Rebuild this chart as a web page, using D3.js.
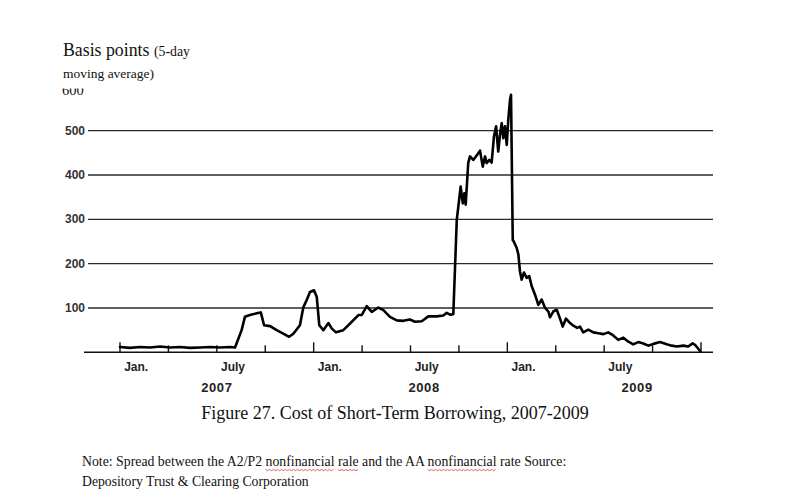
<!DOCTYPE html>
<html>
<head>
<meta charset="utf-8">
<script src="https://cdn.jsdelivr.net/npm/d3@7"></script>
<style>
  html, body { margin: 0; padding: 0; background: #fff; }
  svg { display: block; }
</style>
</head>
<body>
<svg id="chart" width="788" height="502"></svg>
<script>
// decimal years, with the spread in basis points
const years = [
  2007.000, 2007.052, 2007.103, 2007.155, 2007.207, 2007.258, 2007.310, 2007.361,
  2007.413, 2007.465, 2007.516, 2007.568, 2007.594, 2007.628, 2007.645, 2007.671,
  2007.706, 2007.727, 2007.744, 2007.775, 2007.809, 2007.843, 2007.873, 2007.895,
  2007.929, 2007.947, 2007.964, 2007.981, 2008.002, 2008.016, 2008.029, 2008.050,
  2008.076, 2008.093, 2008.115, 2008.153, 2008.188, 2008.231, 2008.248, 2008.274,
  2008.300, 2008.334, 2008.360, 2008.394, 2008.429, 2008.463, 2008.497, 2008.523,
  2008.558, 2008.592, 2008.635, 2008.669, 2008.687, 2008.704, 2008.721, 2008.739,
  2008.747, 2008.759, 2008.770, 2008.778, 2008.785, 2008.798, 2008.807, 2008.824,
  2008.845, 2008.859, 2008.873, 2008.885, 2008.893, 2008.907, 2008.919, 2008.931,
  2008.942, 2008.953, 2008.962, 2008.971, 2008.979, 2008.988, 2008.997, 2009.005,
  2009.014, 2009.019, 2009.028, 2009.031, 2009.048, 2009.057, 2009.065, 2009.074,
  2009.086, 2009.100, 2009.113, 2009.126, 2009.143, 2009.160, 2009.177, 2009.195,
  2009.212, 2009.220, 2009.237, 2009.255, 2009.268, 2009.286, 2009.303, 2009.324,
  2009.341, 2009.361, 2009.375, 2009.392, 2009.418, 2009.444, 2009.470, 2009.496,
  2009.521, 2009.547, 2009.573, 2009.599, 2009.625, 2009.650, 2009.676, 2009.702,
  2009.728, 2009.754, 2009.788, 2009.823, 2009.849, 2009.875, 2009.909, 2009.934,
  2009.957, 2009.969, 2009.986, 2009.995
];
const spread = [
  12, 10, 12, 11, 13, 11, 12, 10,
  11, 12, 11, 12, 11, 50, 80, 84,
  88, 90, 61, 59, 50, 42, 35, 42,
  61, 102, 118, 136, 140, 125, 61, 50,
  66, 54, 45, 50, 65, 84, 84, 104,
  91, 101, 95, 80, 72, 71, 74, 69,
  70, 81, 81, 83, 89, 85, 86, 299,
  329, 374, 336, 359, 333, 427, 442, 434,
  446, 455, 419, 442, 427, 434, 428, 487,
  510, 453, 491, 517, 483, 510, 468, 525,
  570, 581, 253, 252, 236, 221, 183, 164,
  180, 168, 172, 149, 130, 107, 119, 100,
  92, 79, 92, 96, 81, 58, 76, 66,
  60, 55, 58, 45, 51, 45, 43, 41,
  45, 38, 28, 33, 24, 18, 23, 20,
  15, 19, 23, 18, 15, 13, 15, 13,
  20, 17, 8, 3
];

const gridValues = [100, 200, 300, 400, 500];
const quarterTicks = d3.range(2007, 2010.001, 0.25);
const monthLabels = ["Jan.", "July", "Jan.", "July", "Jan.", "July"];
const monthLabelAt = [2007, 2007.5, 2008, 2008.5, 2009, 2009.5];
const yearLabels = ["2007", "2008", "2009"];
const yearLabelAt = [2007.5, 2008.57, 2009.67];

const svg = d3.select("#chart");

const x = d3.scaleLinear().domain([2007, 2010]).range([120, 701]);
const y = d3.scaleLinear().domain([0, 500]).range([352.3, 130.7]);

const left = 86, right = 713;
const serif = "Liberation Serif, Times New Roman, serif";
const sans = "Liberation Sans, Arial, sans-serif";

// horizontal grid lines
svg.selectAll(".grid")
  .data(gridValues)
  .enter().append("line")
  .attr("x1", left + 2).attr("x2", right)
  .attr("y1", d => y(d)).attr("y2", d => y(d))
  .attr("stroke", "#2a2a2a")
  .attr("stroke-width", 1.3);

// y labels, bold sans like the original print
svg.selectAll(".ylab")
  .data(gridValues)
  .enter().append("text")
  .attr("x", left - 1)
  .attr("y", d => y(d) + 4)
  .attr("text-anchor", "end")
  .attr("font-family", sans)
  .attr("font-weight", "bold")
  .attr("font-size", 12)
  .attr("fill", "#333")
  .text(d => d);

// the 600 label is cut off at the top in the reference
svg.append("clipPath").attr("id", "cut600")
  .append("rect").attr("x", 50).attr("y", 88.5).attr("width", 60).attr("height", 20);
svg.append("text")
  .attr("clip-path", "url(#cut600)")
  .attr("x", 62).attr("y", y(600) + 8.5)
  .attr("font-family", serif)
  .attr("font-size", 14.5)
  .attr("fill", "#111")
  .text("600");

// baseline axis
svg.append("line")
  .attr("x1", left - 2).attr("x2", right)
  .attr("y1", y(0)).attr("y2", y(0))
  .attr("stroke", "#111")
  .attr("stroke-width", 1.6);

// quarter ticks, taller on January
svg.selectAll(".tick")
  .data(quarterTicks)
  .enter().append("line")
  .attr("x1", d => x(d)).attr("x2", d => x(d))
  .attr("y1", y(0))
  .attr("y2", d => y(0) - (Math.abs(d - Math.round(d)) < 0.01 ? 10 : 7))
  .attr("stroke", "#111")
  .attr("stroke-width", 1.4);

// month and year labels
svg.selectAll(".mlab")
  .data(monthLabels)
  .enter().append("text")
  .attr("x", (d, i) => x(monthLabelAt[i] + 1 / 12))
  .attr("y", 370.5)
  .attr("text-anchor", "middle")
  .attr("font-family", sans)
  .attr("font-weight", "bold")
  .attr("font-size", 12)
  .attr("fill", "#222")
  .text(d => d);

svg.selectAll(".yrlab")
  .data(yearLabels)
  .enter().append("text")
  .attr("x", (d, i) => x(yearLabelAt[i]))
  .attr("y", 391.5)
  .attr("text-anchor", "middle")
  .attr("font-family", sans)
  .attr("font-weight", "bold")
  .attr("font-size", 13)
  .attr("letter-spacing", 0.6)
  .attr("fill", "#222")
  .text(d => d);

// the spread line
const line = d3.line()
  .x((d, i) => x(years[i]))
  .y(d => y(d));

svg.append("path")
  .datum(spread)
  .attr("d", line)
  .attr("fill", "none")
  .attr("stroke", "#000")
  .attr("stroke-width", 2.6)
  .attr("stroke-linejoin", "round")
  .attr("stroke-linecap", "round");

// axis title
const title = svg.append("text")
  .attr("x", 63).attr("y", 56)
  .attr("font-family", serif)
  .attr("fill", "#111");
title.append("tspan").attr("font-size", 17.8).text("Basis points ");
title.append("tspan").attr("font-size", 13.8).text("(5-day");

svg.append("text")
  .attr("x", 63).attr("y", 78)
  .attr("font-family", serif)
  .attr("font-size", 13.5)
  .attr("fill", "#111")
  .text("moving average)");

// caption and note
svg.append("text")
  .attr("x", 395).attr("y", 419)
  .attr("text-anchor", "middle")
  .attr("font-family", serif)
  .attr("font-size", 18)
  .attr("fill", "#111")
  .text("Figure 27. Cost of Short-Term Borrowing, 2007-2009");

const note1 = svg.append("text")
  .attr("x", 82).attr("y", 466)
  .attr("font-family", serif)
  .attr("font-size", 13.8)
  .attr("fill", "#111")
  .text("Note: Spread between the A2/P2 nonfinancial rale and the AA nonfinancial rate Source:");

svg.append("text")
  .attr("x", 82).attr("y", 486)
  .attr("font-family", serif)
  .attr("font-size", 13.7)
  .attr("fill", "#111")
  .text("Depository Trust & Clearing Corporation");

// red spell-check squiggles under the flagged words
const noteText = note1.text();
const node = note1.node();
function squiggle(word, from) {
  const start = noteText.indexOf(word, from);
  const x0 = 82 + node.getSubStringLength(0, start);
  const w = node.getSubStringLength(start, word.length);
  const pts = d3.range(0, Math.floor(w / 2) + 1).map(k => [x0 + k * 2, 469.5 + (k % 2 ? 1.2 : 0)]);
  svg.append("path")
    .attr("d", d3.line()(pts))
    .attr("fill", "none")
    .attr("stroke", "#d02020")
    .attr("stroke-width", 0.7);
  return start + word.length;
}
let pos = squiggle("nonfinancial", 0);
pos = squiggle("rale", pos);
squiggle("nonfinancial", pos);
</script>
</body>
</html>
